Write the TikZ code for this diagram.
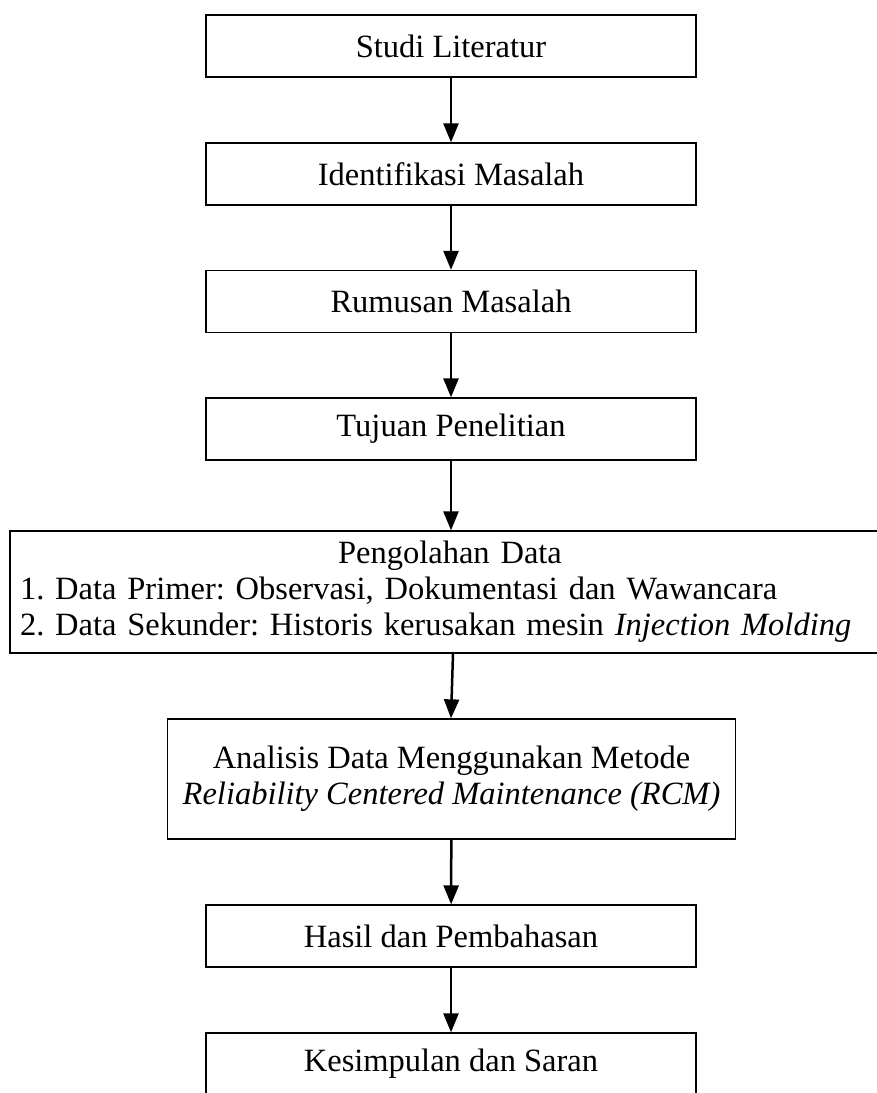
\documentclass[tikz,border=0pt]{standalone}
\usepackage{fontspec}
\setmainfont{Liberation Serif}
\usetikzlibrary{arrows.meta}

\begin{document}
\frenchspacing
\begin{tikzpicture}[x=1pt, y=-1pt,
    box/.style={draw, line width=1.3pt, inner sep=0pt, align=center, font=\fontsize{32.5}{36}\selectfont},
    flow/.style={-{Triangle[width=15pt,length=19pt]}, line width=2.5pt}]
    \useasboundingbox (0,0) rectangle (877,1093);
    \node[box, minimum width=490pt, minimum height=62pt] (studi) at (451,46) {Studi Literatur};
    \node[box, minimum width=490pt, minimum height=62pt] (identifikasi) at (451,174) {Identifikasi Masalah};
    \node[box, minimum width=490pt, minimum height=62pt] (rumusan) at (451,301.5) {Rumusan Masalah};
    \node[box, minimum width=490pt, minimum height=62pt] (tujuan) at (451,429) {Tujuan Penelitian};
    \node[box, minimum width=880pt, minimum height=122pt, text width=860pt, align=left] (olah) at (450,592) {\makebox[860pt]{Pengolahan Data}\\
        1. Data Primer: Observasi, Dokumentasi dan Wawancara\\
        2. Data Sekunder: Historis kerusakan mesin \textit{Injection Molding}};
    \node[box, minimum width=568pt, minimum height=120pt] (analisis) at (451.5,779) {Analisis Data Menggunakan Metode\\\textit{Reliability Centered Maintenance (RCM)}};
    \node[box, minimum width=490pt, minimum height=62pt] (hasil) at (451,936) {Hasil dan Pembahasan};
    \node[box, minimum width=490pt, minimum height=62pt] (kesimpulan) at (451,1064) {Kesimpulan dan Saran};
    \draw[flow] (studi) -- (identifikasi);
    \draw[flow] (identifikasi) -- (rumusan);
    \draw[flow] (rumusan) -- (tujuan);
    \draw[flow] (tujuan) -- (tujuan |- olah.north);
    \draw[flow] (olah.south -| 453,0) -- (analisis.north -| 451,0);
    \draw[flow] (analisis) -- (hasil);
    \draw[flow] (hasil) -- (kesimpulan);
\end{tikzpicture}
\end{document}
